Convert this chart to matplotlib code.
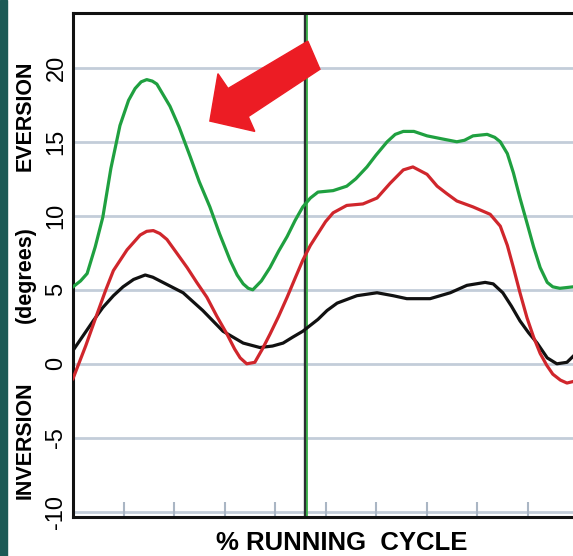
import numpy as np
import matplotlib
matplotlib.use('Agg')
import matplotlib.pyplot as plt
from matplotlib.patches import Polygon, Rectangle

plt.rcParams['font.family'] = ['Liberation Sans', 'DejaVu Sans']

# % running cycle / rearfoot angle (degrees)
green_x = [0, 1.5, 2.8, 4.4, 5.9, 7.5, 9.3, 11, 12.3, 13.5, 14.6, 15.7, 16.6, 19.2, 21, 23.2, 25, 27.1,
           29, 31.1, 32.5, 33.7, 34.7, 35.6, 37.3, 39, 40.7, 42.4, 44, 45.5, 47, 48.5, 51.5, 54.2,
           56, 58.2, 60, 62.2, 63.8, 65.4, 67.5, 70.1, 73, 76, 77.5, 79.2, 82, 83.5, 84.6,
           86, 87.2, 88.5, 89.9, 91.2, 92.5, 93.9, 95, 96.4, 99]
green_y = [5.2, 5.6, 6.1, 7.9, 9.9, 13.2, 16.1, 17.8, 18.6, 19.05, 19.2, 19.1, 18.9, 17.4, 16.0, 14.0, 12.3, 10.6,
           8.8, 7.0, 6.0, 5.4, 5.1, 5.0, 5.6, 6.5, 7.6, 8.6, 9.7, 10.6, 11.2, 11.6, 11.7, 12.0,
           12.5, 13.3, 14.1, 15.0, 15.5, 15.7, 15.7, 15.4, 15.2, 15.0, 15.1, 15.4, 15.5, 15.3, 15.0,
           14.2, 12.9, 11.2, 9.5, 7.9, 6.5, 5.5, 5.2, 5.1, 5.2]

red_x = [0, 2.5, 4.8, 6.5, 8, 10.7, 13.3, 14.6, 15.9, 17.2, 18.6, 20.5, 22.6, 24.5, 26.5, 28.5, 30.5, 32,
         33.1, 34.4, 36, 37.5, 39, 40.7, 42.4, 44, 45.5, 47, 48.5, 50, 51.5, 54.2, 57.4, 60.2,
         62.8, 65.4, 67.3, 70.1, 72.1, 74, 76, 79.2, 82.6, 84.6, 86, 87.2, 88.5, 89.9, 91.2,
         92.5, 93.8, 95, 96.5, 97.8, 99]
red_y = [-1.0, 1.2, 3.4, 5.0, 6.3, 7.7, 8.7, 8.95, 9.0, 8.8, 8.4, 7.5, 6.5, 5.5, 4.5, 3.2, 2.0, 1.0,
         0.4, 0.0, 0.1, 1.0, 2.0, 3.2, 4.5, 5.8, 7.0, 8.0, 8.8, 9.6, 10.2, 10.7, 10.8, 11.2,
         12.2, 13.1, 13.3, 12.8, 12.0, 11.5, 11.0, 10.6, 10.1, 9.3, 8.0, 6.5, 4.8, 3.1, 1.8,
         0.7, -0.1, -0.7, -1.1, -1.3, -1.2]

black_x = [0, 2, 4, 5.9, 8, 9.9, 12, 14.3, 15.8, 17.8, 21.8, 25.7, 29.7, 33.7, 37, 39.5,
           41.6, 43.5, 45.5, 48.5, 50.3, 52.3, 56.2, 60.2, 63.4, 66.1, 70.7, 74.7, 78, 81.6,
           83.2, 85.1, 86.8, 88.5, 90.2, 91.9, 93.9, 95.8, 97.8, 99]
black_y = [0.9, 1.9, 2.9, 3.8, 4.6, 5.2, 5.7, 6.0, 5.85, 5.5, 4.8, 3.6, 2.2, 1.4, 1.1, 1.2,
           1.4, 1.8, 2.2, 3.0, 3.6, 4.1, 4.6, 4.8, 4.6, 4.4, 4.4, 4.8, 5.3, 5.5,
           5.4, 4.8, 3.9, 2.9, 2.1, 1.4, 0.4, 0.0, 0.1, 0.5]

yticks = [-10, -5, 0, 5, 10, 15, 20]
xticks = [10, 20, 30, 40, 50, 60, 70, 80, 90]
contact_end = 46.0   # black divider
green_mark = 46.4    # green divider

fig = plt.figure(figsize=(5.73, 5.56), dpi=100, facecolor='white')
ax = fig.add_axes([73/573, 39/556, 500/573, 504/556])

# dark teal strip on the left edge
fig.patches.append(Rectangle((0, 0), 7/573, 1, transform=fig.transFigure,
                             color='#1c5a56', zorder=0))

ax.set_xlim(0, 99)
ax.set_ylim(-10.35, 23.7)

for y in yticks:
    ax.axhline(y, color='#c3cdd9', lw=2, zorder=1)

ax.axvline(contact_end, color='#2b2f33', lw=2.4, zorder=2)
ax.axvline(green_mark, color='#3cb54a', lw=1.3, zorder=2)

ax.plot(black_x, black_y, color='#111111', lw=2.3, zorder=3, solid_joinstyle='round')
ax.plot(red_x, red_y, color='#d0262c', lw=2.3, zorder=3, solid_joinstyle='round')
ax.plot(green_x, green_y, color='#1fa040', lw=2.3, zorder=3, solid_joinstyle='round')

# big red arrow pointing at the green peak
arrow = Polygon([(46.5, 21.8), (30.7, 18.6), (28.7, 19.6), (27.1, 16.4),
                 (36.0, 15.7), (34.7, 16.7), (48.9, 19.9)],
                closed=True, color='#ec1c24', zorder=5)
ax.add_patch(arrow)

ax.set_yticks(yticks)
ax.set_yticklabels([str(v) for v in yticks], rotation=90, va='center', fontsize=17)
ax.tick_params(axis='y', length=0, pad=4)
ax.set_xticks(xticks)
ax.set_xticklabels([])
ax.tick_params(axis='x', direction='in', length=11, width=1.5, color='#aab6c4')

for s in ['left', 'bottom', 'top']:
    ax.spines[s].set_linewidth(2.2)
    ax.spines[s].set_color('#111111')
ax.spines['right'].set_visible(False)

fig.text(25/573, 1 - 116/556, 'EVERSION', rotation=90, ha='center', va='center',
         fontsize=15.5, fontweight='bold')
fig.text(25/573, 1 - 275/556, '(degrees)', rotation=90, ha='center', va='center',
         fontsize=15.5, fontweight='bold')
fig.text(25/573, 1 - 440/556, 'INVERSION', rotation=90, ha='center', va='center',
         fontsize=15.5, fontweight='bold')
fig.text(342/573, 1 - 543/556, '% RUNNING  CYCLE', ha='center', va='center',
         fontsize=18.5, fontweight='bold')

plt.savefig('out.png', dpi=100)
